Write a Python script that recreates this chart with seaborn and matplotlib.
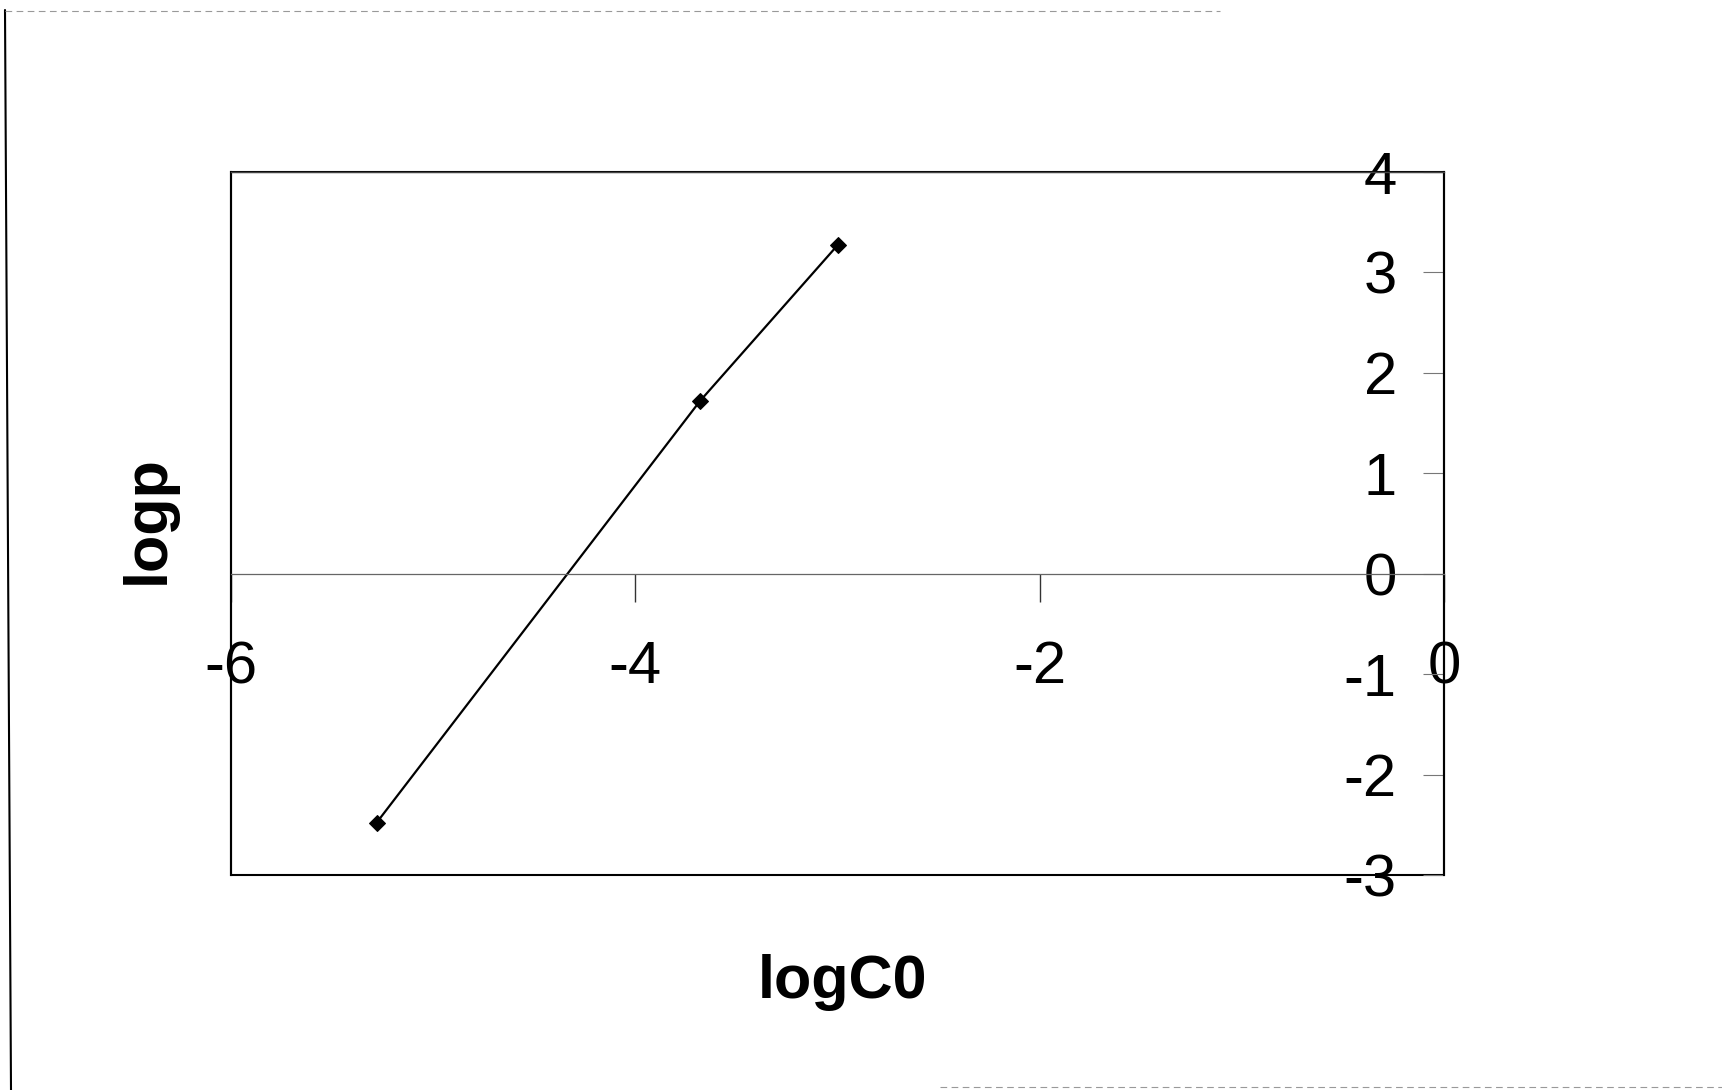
import matplotlib
matplotlib.use("Agg")
import matplotlib.pyplot as plt
import seaborn as sns
import pandas as pd
from matplotlib.lines import Line2D

# data
logC0 = [-5.28, -3.68, -3.00]
logp = [-2.48, 1.72, 3.27]
x_ticks = [-6, -4, -2, 0]
y_ticks = [-3, -2, -1, 0, 1, 2, 3, 4]

df = pd.DataFrame({"logC0": logC0, "logp": logp})

sns.set_theme(style="white")
plt.rcParams["font.family"] = ["Liberation Sans", "DejaVu Sans"]
plt.rcParams["text.color"] = "black"
plt.rcParams["axes.labelcolor"] = "black"
plt.rcParams["xtick.color"] = "black"
plt.rcParams["ytick.color"] = "black"

fig = plt.figure(figsize=(17.22, 10.9), dpi=100)
ax = fig.add_axes([231 / 1722, 1 - 875 / 1090, (1444 - 231) / 1722, (875 - 172) / 1090])

sns.lineplot(data=df, x="logC0", y="logp", ax=ax, sort=False, color="black",
             linewidth=1.6, marker="D", markersize=8, markeredgecolor="black")

ax.set_xlim(-6, 0)
ax.set_ylim(-3, 4)

# box
for s in ["left", "top", "right"]:
    ax.spines[s].set_visible(True)
    ax.spines[s].set_color("black")
    ax.spines[s].set_linewidth(1.5)
ax.spines["top"].set_color("#444444")
ax.spines["top"].set_linewidth(1.0)
ax.patch.set_edgecolor("black")
ax.patch.set_linewidth(1.5)

# x axis through y=0
ax.spines["bottom"].set_position(("data", 0))
ax.spines["bottom"].set_color("#666666")
ax.spines["bottom"].set_linewidth(0.9)
ax.spines["bottom"].set_visible(True)

ax.set_xticks(x_ticks)
ax.set_xticklabels([str(v) for v in x_ticks])
ax.tick_params(axis="x", direction="out", length=20, width=1.0, color="#333333",
               labelsize=43, labelcolor="black", pad=28, bottom=True, top=False)

# y axis on the right, labels inside
ax.yaxis.tick_right()
ax.set_yticks(y_ticks)
ax.set_yticklabels([str(v) for v in y_ticks])
ax.tick_params(axis="y", direction="in", length=15, width=0.8, color="#777777",
               labelsize=43, labelcolor="black", pad=-34, right=True, left=False)
for lab in ax.get_yticklabels():
    lab.set_horizontalalignment("right")

ax.set_xlabel("logC0", fontsize=44, fontweight="bold", va="center", color="black")
ax.xaxis.set_label_coords(0.504, -0.153)
ax.yaxis.set_label_position("left")
ax.set_ylabel("logp", fontsize=44, fontweight="bold", va="center", color="black")
ax.yaxis.set_label_coords(-0.068, 0.506)

# scanned page borders
fig.add_artist(Line2D([5 / 1722, 11 / 1722], [1 - 10 / 1090, 0], transform=fig.transFigure,
                      color="black", linewidth=1.5))
fig.add_artist(Line2D([5 / 1722, 1220 / 1722], [1 - 11 / 1090, 1 - 11 / 1090],
                      transform=fig.transFigure, color="#999999", linewidth=0.8,
                      linestyle=(0, (6, 4))))
fig.add_artist(Line2D([940 / 1722, 1722 / 1722], [1 - 1087 / 1090, 1 - 1087 / 1090],
                      transform=fig.transFigure, color="#999999", linewidth=0.8,
                      linestyle=(0, (6, 4))))

fig.savefig("out.png", dpi=100)
